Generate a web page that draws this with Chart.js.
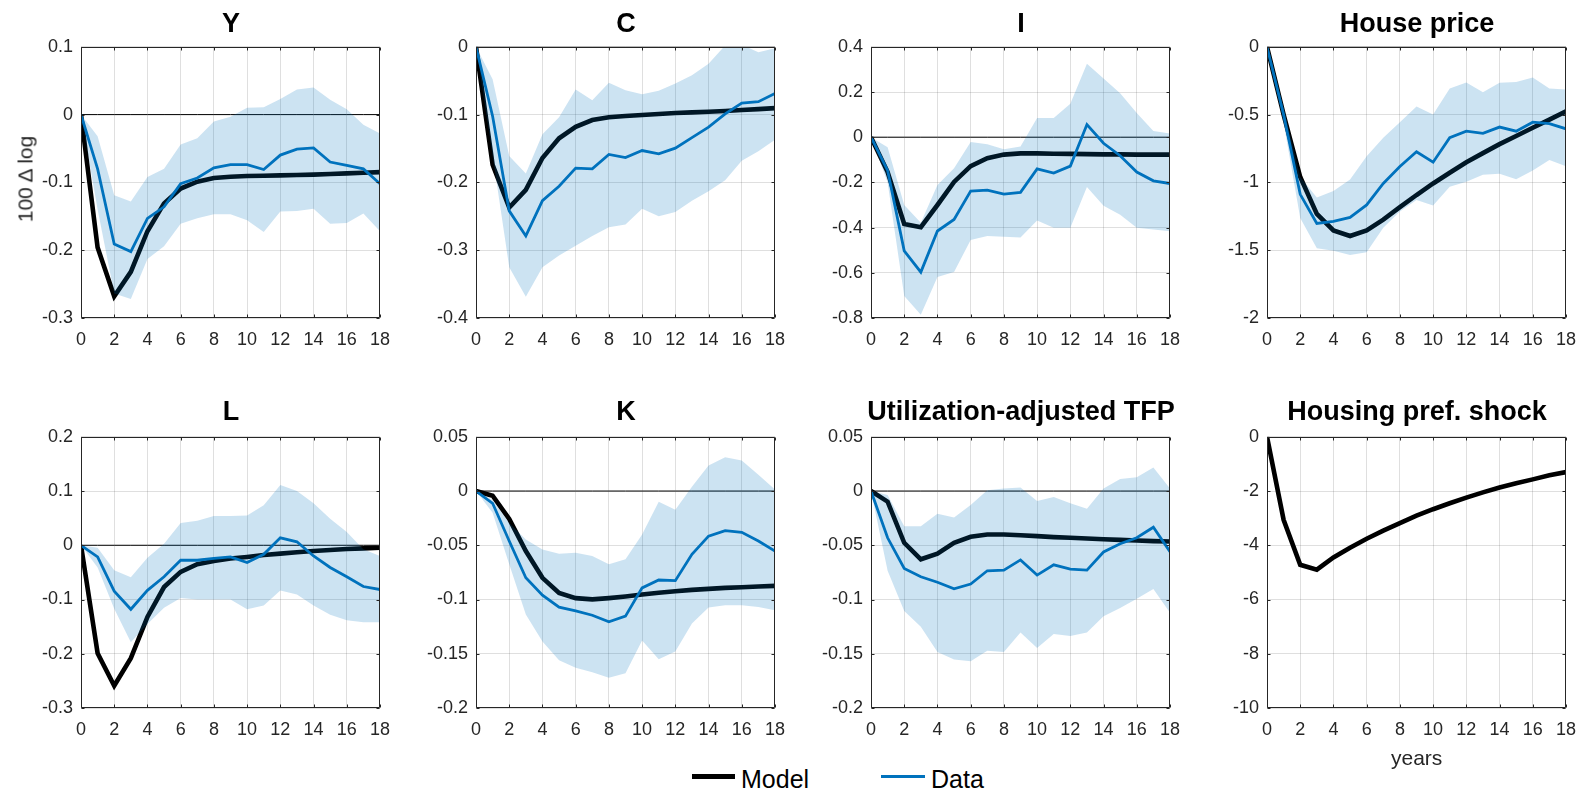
<!DOCTYPE html>
<html><head><meta charset="utf-8">
<script src="https://cdn.jsdelivr.net/npm/chart.js@4.4.0/dist/chart.umd.min.js"></script>
<style>
body{margin:0;background:#fff;width:1587px;height:793px;overflow:hidden;position:relative;font-family:"Liberation Sans",Arial,sans-serif;}
canvas{position:absolute;}
.title{position:absolute;width:400px;text-align:center;font-weight:bold;font-size:27px;line-height:1;color:#000;white-space:nowrap;}
.txt{position:absolute;line-height:1;white-space:nowrap;}
.lline{position:absolute;}
</style></head><body>
<script>
// ---------- data ----------
const horizon = [0,1,2,3,4,5,6,7,8,9,10,11,12,13,14,15,16,17,18];
const xTicks = [0,2,4,6,8,10,12,14,16,18];

const modelY = [0,-0.196,-0.268,-0.232,-0.172,-0.131,-0.109,-0.099,-0.0935,-0.0916,-0.0906,-0.0901,-0.0896,-0.0891,-0.0886,-0.0877,-0.0867,-0.0857,-0.0848];
const dataY  = [0,-0.080,-0.191,-0.202,-0.153,-0.136,-0.102,-0.0935,-0.0785,-0.0737,-0.0737,-0.081,-0.0597,-0.051,-0.049,-0.070,-0.075,-0.080,-0.102];
const hiY    = [0,-0.032,-0.119,-0.128,-0.092,-0.080,-0.044,-0.035,-0.010,-0.003,0.010,0.011,0.023,0.037,0.040,0.022,0.008,-0.015,-0.028];
const loY    = [0,-0.140,-0.264,-0.272,-0.213,-0.194,-0.161,-0.153,-0.147,-0.147,-0.156,-0.173,-0.143,-0.142,-0.139,-0.161,-0.160,-0.146,-0.172];
const ticksY = [-0.3,-0.2,-0.1,0,0.1];

const modelC = [0,-0.174,-0.237,-0.211,-0.164,-0.135,-0.118,-0.108,-0.104,-0.102,-0.1005,-0.099,-0.0977,-0.0967,-0.0958,-0.0948,-0.0933,-0.0919,-0.0905];
const dataC  = [0,-0.1025,-0.242,-0.279,-0.227,-0.2056,-0.179,-0.180,-0.1587,-0.1635,-0.153,-0.158,-0.1495,-0.134,-0.1185,-0.099,-0.083,-0.081,-0.0687];
const hiC    = [0,-0.048,-0.161,-0.187,-0.129,-0.104,-0.063,-0.079,-0.053,-0.064,-0.070,-0.065,-0.054,-0.042,-0.025,0.002,0.003,-0.008,-0.002];
const loC    = [0,-0.160,-0.325,-0.3685,-0.325,-0.308,-0.2936,-0.279,-0.266,-0.262,-0.239,-0.250,-0.2437,-0.227,-0.213,-0.197,-0.168,-0.154,-0.137];
const ticksC = [-0.4,-0.3,-0.2,-0.1,0];

const modelI = [0,-0.154,-0.384,-0.398,-0.300,-0.198,-0.128,-0.093,-0.077,-0.0715,-0.0715,-0.073,-0.074,-0.075,-0.076,-0.076,-0.077,-0.077,-0.077];
const dataI  = [0,-0.147,-0.503,-0.597,-0.415,-0.364,-0.238,-0.234,-0.252,-0.244,-0.140,-0.159,-0.128,0.056,-0.027,-0.082,-0.154,-0.193,-0.205];
const hiI    = [0,-0.045,-0.300,-0.379,-0.212,-0.137,-0.021,-0.031,-0.053,-0.041,0.085,0.085,0.148,0.325,0.260,0.194,0.107,0.027,0.016];
const loI    = [0,-0.200,-0.703,-0.786,-0.619,-0.597,-0.455,-0.437,-0.441,-0.444,-0.369,-0.401,-0.401,-0.220,-0.303,-0.343,-0.401,-0.408,-0.416];
const ticksI = [-0.8,-0.6,-0.4,-0.2,0,0.2,0.4];

const modelHP = [0,-0.50,-0.96,-1.233,-1.354,-1.395,-1.354,-1.274,-1.183,-1.093,-1.008,-0.929,-0.851,-0.784,-0.718,-0.658,-0.597,-0.537,-0.476];
const dataHP  = [0,-0.50,-1.088,-1.303,-1.287,-1.258,-1.166,-1.008,-0.883,-0.774,-0.851,-0.670,-0.622,-0.638,-0.592,-0.622,-0.556,-0.566,-0.605];
const hiHP    = [0,-0.45,-0.96,-1.112,-1.064,-0.979,-0.808,-0.670,-0.556,-0.440,-0.500,-0.307,-0.264,-0.336,-0.266,-0.259,-0.227,-0.307,-0.314];
const loHP    = [0,-0.56,-1.262,-1.485,-1.504,-1.536,-1.516,-1.335,-1.214,-1.129,-1.170,-1.033,-0.996,-0.943,-0.936,-0.977,-0.912,-0.834,-0.880];
const ticksHP = [-2,-1.5,-1,-0.5,0];

const modelL = [0,-0.199,-0.259,-0.208,-0.132,-0.077,-0.049,-0.035,-0.029,-0.0245,-0.0215,-0.018,-0.0154,-0.013,-0.0106,-0.0087,-0.0069,-0.0057,-0.0045];
const dataL  = [0,-0.0215,-0.0846,-0.118,-0.083,-0.058,-0.0276,-0.0276,-0.024,-0.0215,-0.0319,-0.0167,0.0137,0.0064,-0.0197,-0.041,-0.058,-0.076,-0.0816];
const hiL    = [0,-0.0045,-0.0459,-0.059,-0.023,0.0028,0.041,0.045,0.054,0.054,0.055,0.074,0.111,0.100,0.0774,0.049,0.0246,-0.0075,-0.0197];
const loL    = [0,-0.041,-0.117,-0.179,-0.145,-0.115,-0.097,-0.100,-0.100,-0.0998,-0.118,-0.111,-0.0834,-0.0906,-0.111,-0.128,-0.138,-0.142,-0.142];
const ticksL = [-0.3,-0.2,-0.1,0,0.1,0.2];

const modelK = [0,-0.0043,-0.0258,-0.0553,-0.080,-0.094,-0.0987,-0.0999,-0.0987,-0.0972,-0.0954,-0.0938,-0.0923,-0.0911,-0.0902,-0.0893,-0.0887,-0.088,-0.0874];
const dataK  = [0,-0.0113,-0.046,-0.080,-0.096,-0.107,-0.1105,-0.1145,-0.1205,-0.1153,-0.0893,-0.082,-0.0826,-0.0583,-0.0416,-0.0365,-0.038,-0.046,-0.0553];
const hiK    = [0,-0.0083,-0.0295,-0.0446,-0.0538,-0.0577,-0.0568,-0.0598,-0.0674,-0.0629,-0.040,-0.0098,-0.0173,0.0039,0.0236,0.0312,0.0282,0.015,0.0015];
const loK    = [0,-0.020,-0.0674,-0.1138,-0.1387,-0.156,-0.163,-0.167,-0.172,-0.168,-0.1378,-0.155,-0.148,-0.122,-0.1074,-0.1053,-0.1053,-0.1068,-0.110];
const ticksK = [-0.2,-0.15,-0.1,-0.05,0,0.05];

const modelTFP = [0,-0.0098,-0.0477,-0.0629,-0.0577,-0.0477,-0.0422,-0.040,-0.040,-0.0407,-0.0416,-0.0425,-0.0431,-0.0437,-0.0444,-0.045,-0.0456,-0.0462,-0.0465];
const dataTFP  = [0,-0.0431,-0.0714,-0.079,-0.0841,-0.0902,-0.0857,-0.0735,-0.0729,-0.0635,-0.0775,-0.068,-0.072,-0.0729,-0.0562,-0.0486,-0.0431,-0.0334,-0.056];
const hiTFP    = [0,-0.0037,-0.0325,-0.0325,-0.021,-0.0243,-0.0128,0.0008,0.0024,0.0033,-0.0092,-0.0055,-0.0113,-0.0164,0.0024,0.011,0.0127,0.0218,0.0024];
const loTFP    = [0,-0.0735,-0.1105,-0.125,-0.1484,-0.1554,-0.157,-0.1472,-0.1484,-0.1305,-0.1448,-0.1317,-0.1336,-0.1305,-0.1154,-0.1078,-0.0993,-0.0902,-0.1123];
const ticksTFP = [-0.2,-0.15,-0.1,-0.05,0,0.05];

const modelHS = [0,-3.06,-4.72,-4.90,-4.45,-4.09,-3.76,-3.46,-3.18,-2.91,-2.67,-2.45,-2.245,-2.05,-1.87,-1.71,-1.57,-1.42,-1.30];
const ticksHS = [-10,-8,-6,-4,-2,0];

const titles = ['Y','C','I','House price','L','K','Utilization-adjusted TFP','Housing pref. shock'];
const legendLabels = ['Model','Data'];
const yLabel = '100 \u0394 log';
const xLabel = 'years';

// ---------- layout ----------
const colLeft = [81, 476, 871, 1267];
const rowTop = [43, 433];
const titleTop = [9.5, 398];
const PW = 300, PH = 275, PADL = 70, PADT = 15, PADR = 20, XH = 35;
const FONT = '"Liberation Sans", Arial, sans-serif';
const TICKC = '#262626';
const GRIDC = 'rgba(38,38,38,0.15)';
const BLUE = '#0072BD';

const panels = [
  {model:modelY, data:dataY, hi:hiY, lo:loY, ticks:ticksY},
  {model:modelC, data:dataC, hi:hiC, lo:loC, ticks:ticksC},
  {model:modelI, data:dataI, hi:hiI, lo:loI, ticks:ticksI},
  {model:modelHP, data:dataHP, hi:hiHP, lo:loHP, ticks:ticksHP},
  {model:modelL, data:dataL, hi:hiL, lo:loL, ticks:ticksL},
  {model:modelK, data:dataK, hi:hiK, lo:loK, ticks:ticksK},
  {model:modelTFP, data:dataTFP, hi:hiTFP, lo:loTFP, ticks:ticksTFP},
  {model:modelHS, data:null, hi:null, lo:null, ticks:ticksHS}
];

const pts = arr => horizon.map((x,i)=>({x:x, y:arr[i]}));
const zeroLine = horizon.map(()=>0);

const boxPlugin = {
  id:'boxTicks',
  afterDraw(chart){
    const {ctx, chartArea:a, scales} = chart;
    const x = scales.x, y = scales.y;
    ctx.save();
    ctx.strokeStyle = TICKC; ctx.lineWidth = 1;
    const L = Math.round(a.left)+0.5, R = Math.round(a.right)-0.5, T = Math.round(a.top)+0.5, B = Math.round(a.bottom)-0.5;
    ctx.beginPath();
    ctx.rect(L, T, R-L, B-T);
    x.ticks.forEach(t=>{
      const px = Math.round(x.getPixelForValue(t.value))+0.5;
      ctx.moveTo(px,B); ctx.lineTo(px,B-3);
      ctx.moveTo(px,T); ctx.lineTo(px,T+3);
    });
    y.ticks.forEach(t=>{
      const py = Math.round(y.getPixelForValue(t.value))+0.5;
      ctx.moveTo(L,py); ctx.lineTo(L+3,py);
      ctx.moveTo(R,py); ctx.lineTo(R-3,py);
    });
    ctx.stroke();
    ctx.restore();
  }
};

panels.forEach((p, idx)=>{
  const col = idx % 4, row = Math.floor(idx/4);
  const cv = document.createElement('canvas');
  cv.width = PADL + PW + PADR; cv.height = PADT + PH + XH;
  cv.style.left = (colLeft[col]-PADL)+'px';
  cv.style.top = (rowTop[row]-PADT)+'px';
  document.body.appendChild(cv);

  const t = document.createElement('div');
  t.className = 'title';
  t.textContent = titles[idx];
  t.style.left = (colLeft[col] + PW/2 - 200)+'px';
  t.style.top = titleTop[row]+'px';
  document.body.appendChild(t);

  const ds = [];
  if (p.data){
    ds.push({label:'Data', data:pts(p.data), borderColor:BLUE, borderWidth:2.8, pointRadius:0, fill:false, tension:0});
    ds.push({label:'hi', data:pts(p.hi), borderColor:'rgba(0,0,0,0)', borderWidth:0, pointRadius:0, backgroundColor:'rgba(0,114,189,0.2)', fill:'+1', tension:0});
    ds.push({label:'lo', data:pts(p.lo), borderColor:'rgba(0,0,0,0)', borderWidth:0, pointRadius:0, fill:false, tension:0});
    ds.push({label:'zero', data:pts(zeroLine), borderColor:'#000', borderWidth:1, pointRadius:0, fill:false});
  }
  ds.push({label:'Model', data:pts(p.model), borderColor:'#000', borderWidth:4.6, pointRadius:0, fill:false, tension:0, borderJoinStyle:'miter'});

  new Chart(cv, {
    type:'line',
    data:{datasets:ds},
    plugins:[boxPlugin],
    options:{
      responsive:false, animation:false, devicePixelRatio:1,
      layout:{padding:{left:0, right:PADR, top:PADT, bottom:0}},
      plugins:{legend:{display:false}, tooltip:{enabled:false}, title:{display:false},
               filler:{drawTime:'beforeDatasetDraw', propagate:false}},
      scales:{
        x:{type:'linear', min:0, max:18,
           afterBuildTicks:s=>{ s.ticks = xTicks.map(v=>({value:v})); },
           afterFit:s=>{ s.height = XH; },
           ticks:{font:{family:FONT,size:18}, color:TICKC, padding:11, maxRotation:0, autoSkip:false, callback:v=>String(v)},
           grid:{color:GRIDC, drawTicks:false, lineWidth:1},
           border:{display:false}},
        y:{type:'linear', min:p.ticks[0], max:p.ticks[p.ticks.length-1],
           afterBuildTicks:s=>{ s.ticks = p.ticks.map(v=>({value:v})); },
           afterFit:s=>{ s.width = PADL; },
           ticks:{font:{family:FONT,size:18}, color:TICKC, padding:8, autoSkip:false, callback:v=>String(v)},
           grid:{color:GRIDC, drawTicks:false, lineWidth:1},
           border:{display:false}}
      }
    }
  });
});

// y label
const yl = document.createElement('div');
yl.className = 'txt'; yl.textContent = yLabel;
yl.style.cssText += 'font-size:21px;color:#262626;left:24.7px;top:179px;transform:translate(-50%,-50%) rotate(-90deg);';
document.body.appendChild(yl);

// x label
const xl = document.createElement('div');
xl.className = 'txt'; xl.textContent = xLabel;
xl.style.cssText += 'font-size:21px;color:#262626;left:1416.7px;top:747px;transform:translateX(-50%);';
document.body.appendChild(xl);

// legend
const legItems = [
  {label:legendLabels[0], color:'#000', lw:4.6, lineLeft:692, lineW:43, textLeft:741},
  {label:legendLabels[1], color:BLUE, lw:2.8, lineLeft:881, lineW:44, textLeft:931}
];
legItems.forEach(it=>{
  const ln = document.createElement('div');
  ln.className = 'lline';
  ln.style.cssText += `left:${it.lineLeft}px;width:${it.lineW}px;top:${776.7-it.lw/2}px;height:${it.lw}px;background:${it.color};`;
  document.body.appendChild(ln);
  const tx = document.createElement('div');
  tx.className = 'txt'; tx.textContent = it.label;
  tx.style.cssText += `left:${it.textLeft}px;top:766.7px;font-size:25px;color:#000;`;
  document.body.appendChild(tx);
});
</script>
</body></html>
